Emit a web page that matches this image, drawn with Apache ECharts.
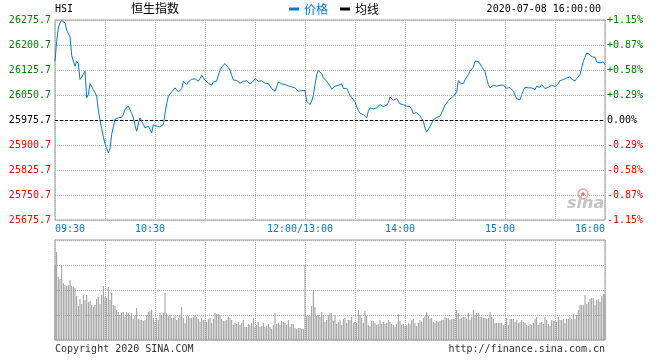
<!DOCTYPE html>
<html>
<head>
<meta charset="utf-8">
<script src="https://cdn.jsdelivr.net/npm/echarts@6/dist/echarts.min.js"></script>
<style>
html,body{margin:0;padding:0;background:#fff;}
#chart{width:660px;height:360px;}
</style>
</head>
<body>
<div id="chart"></div>
<script>
// ---- data ----
const prevClose = 25975.7;
const timeTicks = ['09:30', '10:30', '12:00/13:00', '14:00', '15:00', '16:00'];
const timeTickIndex = [0, 60, 150, 210, 270, 330];
const priceLabels = ['25675.7','25750.7','25825.7','25900.7','25975.7','26050.7','26125.7','26200.7','26275.7'];
const pctLabels = ['-1.15%','-0.87%','-0.58%','-0.29%','0.00%','+0.29%','+0.58%','+0.87%','+1.15%'];

const prices = [
26152,26212,26252,26267,26274,26274,26267,26245,26250,26225,
26170,26152,26137,26152,26145,26097,26104,26100,26122,26042,
26052,26085,26084,26067,26070,26048,26005,25975,25950,25925,
25904,25890,25877,25890,25932,25955,25978,25978,25982,25983,
25984,25992,26007,26002,26018,26012,25995,25982,25960,25942,
25964,25982,25972,25962,25952,25950,25957,25947,25937,25962,
25960,25957,25954,25955,25958,25962,25995,26025,26047,26050,
26060,26065,26072,26066,26060,26058,26070,26092,26088,26082,
26090,26093,26098,26094,26099,26100,26092,26100,26110,26106,
26095,26090,26086,26085,26080,26090,26092,26092,26110,26125,
26135,26140,26145,26142,26132,26125,26110,26096,26096,26094,
26092,26086,26087,26092,26095,26093,26088,26084,26090,26092,
26100,26106,26092,26094,26093,26091,26086,26086,26085,26082,
26070,26066,26062,26068,26090,26088,26084,26088,26082,26082,
26078,26075,26075,26074,26072,26068,26062,26066,26064,26062,
26064,26032,26037,26022,26032,26050,26082,26112,26124,26124,
26115,26102,26098,26092,26087,26078,26068,26067,26077,26080,
26080,26077,26084,26070,26068,26071,26066,26050,26043,26041,
26030,26014,26004,25995,25994,25992,25987,25982,26002,26012,
26012,26009,26011,26012,26015,26022,26018,26016,26017,26020,
26028,26045,26040,26035,26037,26040,26032,26024,26028,26022,
26017,26017,26019,26016,26008,25995,25998,25998,25994,25988,
25982,25972,25952,25940,25942,25956,25966,25976,25980,25984,
25990,25987,25990,26008,26020,26026,26034,26040,26043,26048,
26052,26060,26094,26087,26082,26085,26096,26102,26112,26122,
26124,26134,26152,26152,26151,26144,26136,26128,26120,26100,
26082,26072,26074,26080,26078,26077,26074,26080,26084,26080,
26075,26071,26072,26073,26070,26062,26057,26040,26034,26036,
26052,26064,26074,26077,26072,26072,26072,26067,26067,26077,
26074,26074,26082,26077,26070,26066,26074,26075,26080,26076,
26076,26080,26085,26094,26100,26097,26099,26102,26099,26105,
26098,26097,26093,26100,26104,26112,26132,26152,26164,26177,
26177,26172,26165,26164,26164,26150,26147,26147,26147,26150,
26142
];

const volumes = [
75,88,63,61,74,57,55,54,55,60,
54,53,52,44,34,41,36,45,40,45,
38,39,35,33,35,41,43,36,45,54,
43,42,53,40,47,35,34,30,28,25,
27,28,23,28,27,24,27,21,24,32,
21,20,20,19,20,25,28,29,30,22,
18,22,20,27,25,27,47,27,24,25,
22,22,24,20,22,25,33,22,17,24,
24,22,22,23,25,23,21,18,22,20,
20,18,21,22,17,21,27,26,26,25,
21,19,19,20,23,22,20,15,17,16,
18,15,17,20,13,13,16,15,17,22,
13,15,18,13,14,17,13,14,16,13,
11,15,27,16,17,15,19,18,17,15,
20,13,16,16,12,11,12,12,11,11,
75,24,24,24,34,50,33,24,25,23,
28,25,18,20,25,27,27,19,25,16,
18,20,15,21,22,17,20,20,23,17,
18,17,30,25,22,17,29,24,15,14,
19,19,17,15,16,20,16,18,16,17,
20,18,16,15,13,16,26,19,15,16,
14,15,17,16,20,21,17,14,17,20,
18,22,24,28,24,21,22,18,17,19,
18,19,20,20,23,22,22,20,21,21,
21,30,27,21,22,23,23,21,27,20,
23,30,25,27,27,23,23,22,22,21,
22,28,23,21,17,17,17,17,17,15,
16,22,15,21,21,21,18,20,17,18,
20,18,17,15,14,16,15,17,21,23,
15,17,18,16,23,20,16,14,20,19,
19,18,23,20,20,21,17,21,21,23,
21,26,21,25,30,35,35,35,45,36,
38,41,42,42,35,40,41,38,44,46,
46
];

// ---- build ----
function minuteName(i) {
  const t = i <= 150 ? 570 + i : 780 + (i - 150);
  const h = Math.floor(t / 60), m = t % 60;
  return (h < 10 ? '0' : '') + h + ':' + (m < 10 ? '0' : '') + m;
}
const categories = prices.map((_, i) => minuteName(i));
const offsets = prices.map(p => +(p - prevClose).toFixed(1));

const MONO = 'DejaVu Sans Mono';
const CJK = 'Noto Sans CJK SC';
const BLUE = '#0a78c8';
const GRID = '#b0b0b0';

function sideColor(v) { return v > 0 ? '#008000' : (v < 0 ? '#ff0000' : '#000000'); }
const splitIdx = (i) => i % 30 === 0;

const chart = echarts.init(document.getElementById('chart'), null, {renderer: 'canvas'});
chart.setOption({
  animation: false,
  backgroundColor: '#fff',
  legend: {
    left: 284, top: -2,
    icon: 'rect', itemWidth: 10, itemHeight: 3, itemGap: 12,
    textStyle: {fontFamily: CJK, fontSize: 12, padding: [0, 0, 0, 0]},
    data: [
      {name: '价格', textStyle: {color: BLUE}},
      {name: '均线', textStyle: {color: '#000'}}
    ],
    selectedMode: false
  },
  grid: [
    {left: 55, top: 20, width: 550, height: 200, show: true, borderColor: '#999', borderWidth: 1, backgroundColor: 'transparent'},
    {left: 55, top: 240, width: 550, height: 100, show: true, borderColor: '#999', borderWidth: 1, backgroundColor: 'transparent'}
  ],
  xAxis: [
    {
      type: 'category', gridIndex: 0, data: categories, boundaryGap: false,
      axisLine: {show: false}, axisTick: {show: false},
      splitLine: {show: true, interval: splitIdx, lineStyle: {color: GRID, type: [1, 1], width: 1}},
      axisLabel: {
        show: true, margin: 4,
        interval: (i) => timeTickIndex.indexOf(i) >= 0,
        alignMinLabel: 'left', alignMaxLabel: 'right',
        fontFamily: MONO, fontSize: 10, color: BLUE,
        formatter: (v, i) => {
          const k = timeTickIndex.indexOf(i);
          if (k < 0) return '';
          if (k === 0 || k === timeTickIndex.length - 1) return timeTicks[k];
          return '{m|' + timeTicks[k] + '}';
        },
        rich: {m: {fontFamily: MONO, fontSize: 10, color: BLUE, padding: [0, 10, 0, 0]}}
      }
    },
    {
      type: 'category', gridIndex: 1, data: categories, boundaryGap: false,
      axisLine: {show: false}, axisTick: {show: false}, axisLabel: {show: false},
      splitLine: {show: true, interval: splitIdx, lineStyle: {color: GRID, type: [1, 1], width: 1}}
    }
  ],
  yAxis: [
    {
      type: 'value', gridIndex: 0, min: -300, max: 300, interval: 75, position: 'left',
      axisLine: {show: false}, axisTick: {show: false},
      splitLine: {show: true, lineStyle: {color: GRID, type: [1, 1], width: 1}},
      axisLabel: {
        margin: 4, fontFamily: MONO, fontSize: 10, padding: [0, 0, 5, 0],
        formatter: (v) => priceLabels[Math.round((v + 300) / 75)],
        color: (v) => sideColor(Number(v))
      }
    },
    {
      type: 'value', gridIndex: 0, min: -300, max: 300, interval: 75, position: 'right',
      axisLine: {show: false}, axisTick: {show: false}, splitLine: {show: false},
      axisLabel: {
        margin: 2, fontFamily: MONO, fontSize: 10, padding: [0, 0, 5, 0],
        formatter: (v) => pctLabels[Math.round((v + 300) / 75)],
        color: (v) => sideColor(Number(v))
      }
    },
    {
      type: 'value', gridIndex: 1, min: 0, max: 100, interval: 25,
      axisLine: {show: false}, axisTick: {show: false}, axisLabel: {show: false},
      splitLine: {show: true, lineStyle: {color: GRID, type: [1, 1], width: 1}}
    }
  ],
  series: [
    {
      name: '价格', type: 'line', xAxisIndex: 0, yAxisIndex: 0, data: offsets,
      symbol: 'none', color: BLUE, lineStyle: {width: 1, color: BLUE},
      z: 5,
      markLine: {
        silent: true, symbol: 'none', label: {show: false},
        lineStyle: {color: '#000', type: [3, 2], width: 1},
        data: [{yAxis: 0}]
      }
    },
    {
      name: '均线', type: 'line', xAxisIndex: 0, yAxisIndex: 0, data: [],
      symbol: 'none', color: '#000', lineStyle: {width: 1, color: '#000'}
    },
    {
      name: '成交量', type: 'bar', xAxisIndex: 1, yAxisIndex: 2, data: volumes,
      barWidth: 1, itemStyle: {color: '#999'}
    }
  ],
  graphic: [
    {type: 'text', left: 55, top: 4, style: {text: 'HSI', fontFamily: MONO, fontSize: 10, fill: '#000'}},
    {type: 'text', left: 131, top: 2, style: {text: '恒生指数', fontFamily: CJK, fontSize: 12, fill: '#000'}},
    {type: 'text', right: 59, top: 4, style: {text: '2020-07-08 16:00:00', fontFamily: MONO, fontSize: 10, fill: '#000'}},
    {type: 'text', left: 55, top: 344, style: {text: 'Copyright 2020 SINA.COM', fontFamily: MONO, fontSize: 10, fill: '#333'}},
    {type: 'text', right: 55, top: 344, style: {text: 'http://finance.sina.com.cn', fontFamily: MONO, fontSize: 10, fill: '#333'}},
    {type: 'circle', shape: {cx: 583, cy: 194, r: 5}, style: {fill: 'none', stroke: '#f5a0a0', lineWidth: 1.5}, z: 1},
    {type: 'circle', shape: {cx: 583, cy: 194, r: 1.8}, style: {fill: '#e07070'}, z: 1},
    {type: 'text', left: 567, top: 196, style: {text: 'sina', fontFamily: 'DejaVu Sans', fontSize: 16, fontStyle: 'italic', fontWeight: 'bold', fill: '#c4c4c4'}, z: 1}
  ]
});
</script>
</body>
</html>
